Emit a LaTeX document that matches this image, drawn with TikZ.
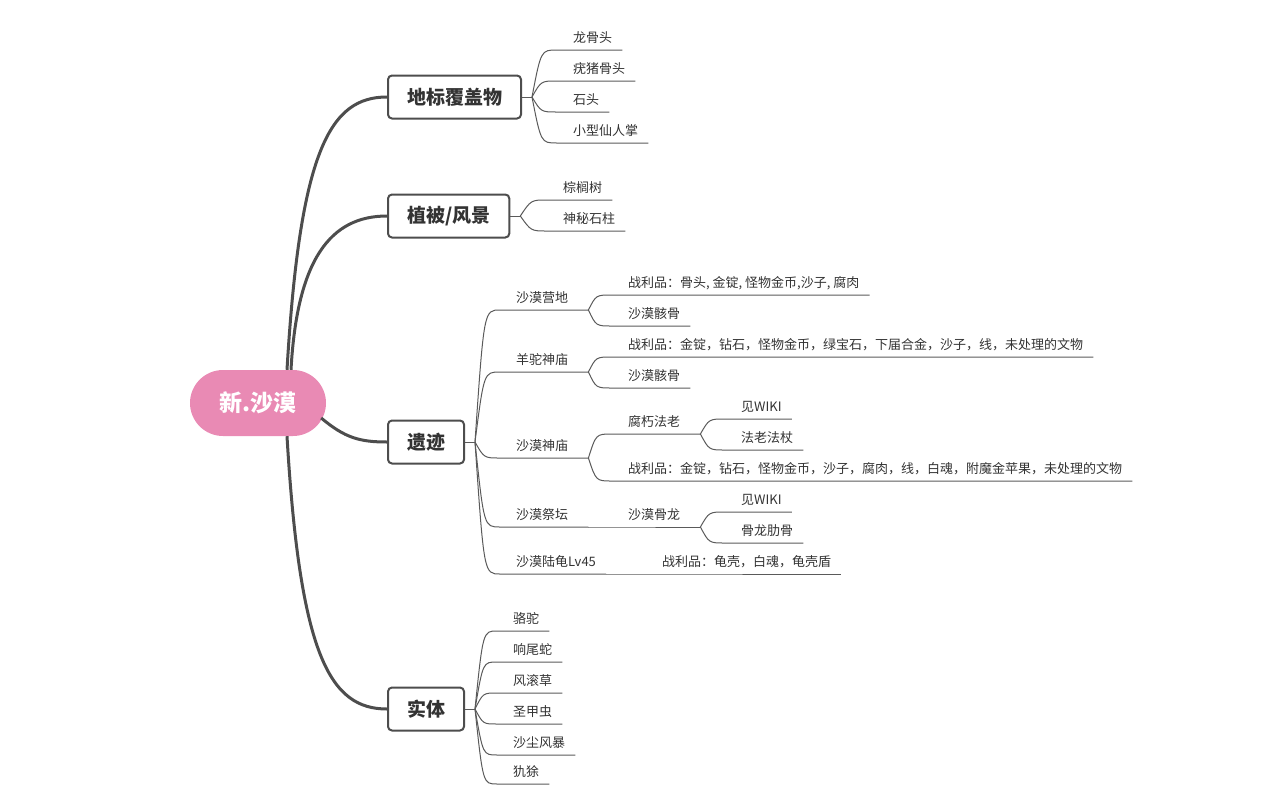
\documentclass[tikz,border=0pt]{standalone}
\usepackage{fontspec}
\setmainfont{Noto Sans CJK SC}
\definecolor{ink}{HTML}{333333}
\definecolor{frame}{HTML}{4D4D4D}
\definecolor{stem}{HTML}{5A5A5A}
\definecolor{petal}{HTML}{E98AB4}

\tikzset{
  root/.style={fill=petal,rounded corners=33pt,minimum width=136pt,
    minimum height=66pt,text=white,font=\bfseries\fontsize{23}{26}\selectfont},
  branch/.style={draw=frame,line width=2pt,rounded corners=4pt,fill=white,
    minimum height=43pt,inner xsep=19pt,anchor=west,text=ink,
    font=\bfseries\fontsize{19}{22}\selectfont},
  leaf/.style={anchor=south west,inner xsep=10pt,inner ysep=5pt,
    text height=10pt,text depth=2pt,text=ink,
    font=\fontsize{13}{15}\selectfont,
    execute at begin node=\hspace*{6pt}},
  mid/.style={leaf,text width=68pt},
  limb/.style={draw=frame,line width=3pt},
  twig/.style={draw=stem,line width=1pt}
}

\begin{document}
\begin{tikzpicture}[x=1pt,y=-1pt]
  \useasboundingbox (0,0) rectangle (1288,806);

  % main branches from the centre topic
  \node[root] (root) at (258,403) {新.沙漠};
  \node[branch] (mark) at (387,97) {地标覆盖物};
  \node[branch] (flora) at (387,216) {植被/风景};
  \node[branch] (ruin) at (387,442) {遗迹};
  \node[branch] (mob) at (387,709) {实体};

  \draw[limb] ([xshift=29pt]root.north)
    .. controls (300,150) and (330,97) .. (mark.west);
  \draw[limb] ([xshift=33pt]root.north)
    .. controls (297,260) and (330,216) .. (flora.west);
  \draw[limb] ([xshift=-5pt,yshift=-15pt]root.east)
    .. controls (345,438) and (360,442) .. (ruin.west);
  \draw[limb] ([xshift=29pt]root.south)
    .. controls (300,656) and (330,709) .. (mob.west);

  % landmarks
  \node[leaf] (dragon) at (557,50) {龙骨头};
  \node[leaf] (hog) at (557,81) {疣猪骨头};
  \node[leaf] (stone) at (557,112) {石头};
  \node[leaf] (cactus) at (557,143) {小型仙人掌};
  \draw[twig] (mark.east) -- ++(10,0) coordinate (markhub);
  \draw[twig] (markhub) .. controls (541,50) .. (dragon.south west) -- (dragon.south east);
  \draw[twig] (markhub) .. controls (541,81) .. (hog.south west) -- (hog.south east);
  \draw[twig] (markhub) .. controls (541,112) .. (stone.south west) -- (stone.south east);
  \draw[twig] (markhub) .. controls (541,143) .. (cactus.south west) -- (cactus.south east);

  % vegetation
  \node[leaf] (palm) at (547,200) {棕榈树};
  \node[leaf] (pillar) at (547,231) {神秘石柱};
  \draw[twig] (flora.east) -- ++(10,0) coordinate (florahub);
  \draw[twig] (florahub) .. controls (531,200) .. (palm.south west) -- (palm.south east);
  \draw[twig] (florahub) .. controls (531,231) .. (pillar.south west) -- (pillar.south east);

  % ruins
  \node[mid] (camp) at (500,310) {沙漠营地};
  \node[mid] (llama) at (500,372) {羊驼神庙};
  \node[mid] (temple) at (500,458) {沙漠神庙};
  \node[mid] (altar) at (500,527) {沙漠祭坛};
  \node[leaf] (turtle) at (500,574) {沙漠陆龟Lv45};
  \draw[twig] (ruin.east) -- ++(10,0) coordinate (ruinhub);
  \draw[twig] (ruinhub) .. controls (484,310) .. (camp.south west) -- (camp.south east);
  \draw[twig] (ruinhub) .. controls (484,372) .. (llama.south west) -- (llama.south east);
  \draw[twig] (ruinhub) .. controls (484,458) .. (temple.south west) -- (temple.south east);
  \draw[twig] (ruinhub) .. controls (484,527) .. (altar.south west) -- (altar.south east);
  \draw[twig] (ruinhub) .. controls (484,574) .. (turtle.south west) -- (turtle.south east);

  \node[leaf] (loot1) at (612,295) {战利品：骨头, 金锭, 怪物金币,沙子, 腐肉};
  \node[leaf] (husk1) at (612,326) {沙漠骸骨};
  \draw[twig] (camp.south east) .. controls (596,295) .. (loot1.south west) -- (loot1.south east);
  \draw[twig] (camp.south east) .. controls (596,326) .. (husk1.south west) -- (husk1.south east);

  \node[leaf] (loot2) at (612,357)
    {战利品：金锭，钻石，怪物金币，绿宝石，下届合金，沙子，线，未处理的文物};
  \node[leaf] (husk2) at (612,388) {沙漠骸骨};
  \draw[twig] (llama.south east) .. controls (596,357) .. (loot2.south west) -- (loot2.south east);
  \draw[twig] (llama.south east) .. controls (596,388) .. (husk2.south west) -- (husk2.south east);

  \node[mid] (pharaoh) at (612,434) {腐朽法老};
  \node[leaf] (loot3) at (612,481)
    {战利品：金锭，钻石，怪物金币，沙子，腐肉，线，白魂，附魔金苹果，未处理的文物};
  \draw[twig] (temple.south east) .. controls (596,434) .. (pharaoh.south west) -- (pharaoh.south east);
  \draw[twig] (temple.south east) .. controls (596,481) .. (loot3.south west) -- (loot3.south east);
  \node[leaf] (wiki1) at (725,419) {见WIKI};
  \node[leaf] (staff) at (725,450) {法老法杖};
  \draw[twig] (pharaoh.south east) .. controls (709,419) .. (wiki1.south west) -- (wiki1.south east);
  \draw[twig] (pharaoh.south east) .. controls (709,450) .. (staff.south west) -- (staff.south east);

  \node[mid] (wyrm) at (612,527) {沙漠骨龙};
  \draw[twig] (altar.south east) -- (wyrm.south west) -- (wyrm.south east);
  \node[leaf] (wiki2) at (725,512) {见WIKI};
  \node[leaf] (rib) at (725,543) {骨龙肋骨};
  \draw[twig] (wyrm.south east) .. controls (709,512) .. (wiki2.south west) -- (wiki2.south east);
  \draw[twig] (wyrm.south east) .. controls (709,543) .. (rib.south west) -- (rib.south east);

  \node[leaf] (loot4) at (646,574) {战利品：龟壳，白魂，龟壳盾};
  \draw[twig] (turtle.south east) -- (loot4.south west) -- (loot4.south east);

  % entities
  \node[leaf] (camel) at (497,631) {骆驼};
  \node[leaf] (rattler) at (497,662) {响尾蛇};
  \node[leaf] (tumble) at (497,693) {风滚草};
  \node[leaf] (scarab) at (497,724) {圣甲虫};
  \node[leaf] (storm) at (497,755) {沙尘风暴};
  \node[leaf] (armadillo) at (497,784) {犰狳};
  \draw[twig] (mob.east) -- ++(10,0) coordinate (mobhub);
  \draw[twig] (mobhub) .. controls (483,631) .. (camel.south west) -- (camel.south east);
  \draw[twig] (mobhub) .. controls (483,662) .. (rattler.south west) -- (rattler.south east);
  \draw[twig] (mobhub) .. controls (483,693) .. (tumble.south west) -- (tumble.south east);
  \draw[twig] (mobhub) .. controls (483,724) .. (scarab.south west) -- (scarab.south east);
  \draw[twig] (mobhub) .. controls (483,755) .. (storm.south west) -- (storm.south east);
  \draw[twig] (mobhub) .. controls (483,784) .. (armadillo.south west) -- (armadillo.south east);
\end{tikzpicture}
\end{document}
